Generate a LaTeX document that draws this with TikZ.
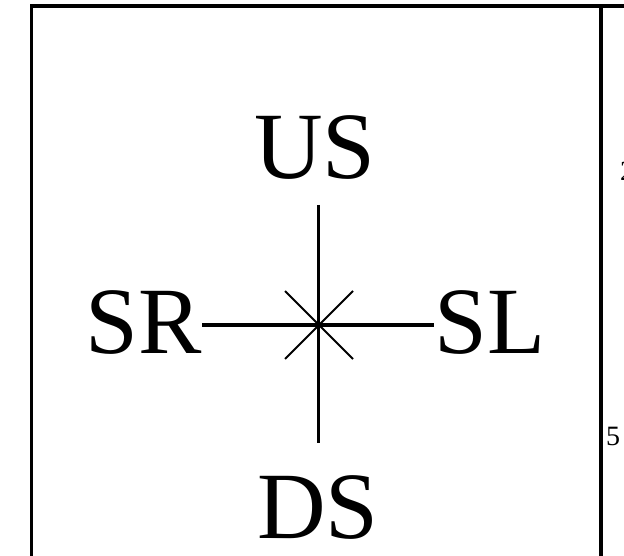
\documentclass[tikz,border=0pt]{standalone}
\usepackage{fontspec}
\setmainfont{Liberation Serif}
\begin{document}
\begin{tikzpicture}[x=1pt,y=-1pt,
  big/.style={inner sep=0pt,font=\fontsize{95}{95}\selectfont},
  small/.style={inner sep=0pt,font=\fontsize{28}{28}\selectfont},
  frame/.style={line width=3.6pt},
  axis/.style={line width=3.6pt},
  diag/.style={line width=1.8pt}]
\useasboundingbox (0,0) rectangle (624,556);
% frame
\coordinate (bl) at (31.5,556);
\coordinate (tl) at (31.5,6);
\coordinate (tr) at (624,6);
\coordinate (rt) at (601,6);
\coordinate (rb) at (601,556);
\draw[frame] (bl) -- (tl) -- (tr);
\draw[frame] (rt) -- (rb);
% labels
\node[big,anchor=base] (us) at (315,179) {US};
\node[big,anchor=base] (ds) at (318,538) {DS};
\node[big,anchor=base east] (sr) at (202,353) {SR};
\node[big,anchor=base west] (sl) at (434,353) {SL};
\node[small,anchor=base west] (five) at (606,445) {5};
\node[small,anchor=base west] (two) at (620,181) {2};
% cross
\coordinate (c) at (318.5,325);
\coordinate (ctop) at (318.5,205);
\coordinate (cbot) at (318.5,443);
\draw[axis] (ctop) -- (cbot);
\draw[axis] (sr.east |- c) -- (sl.west |- c);
\coordinate (d1) at (285,291);
\coordinate (d2) at (353,359);
\coordinate (d3) at (353,291);
\coordinate (d4) at (285,359);
\draw[diag] (d1) -- (d2);
\draw[diag] (d3) -- (d4);
\end{tikzpicture}
\end{document}
